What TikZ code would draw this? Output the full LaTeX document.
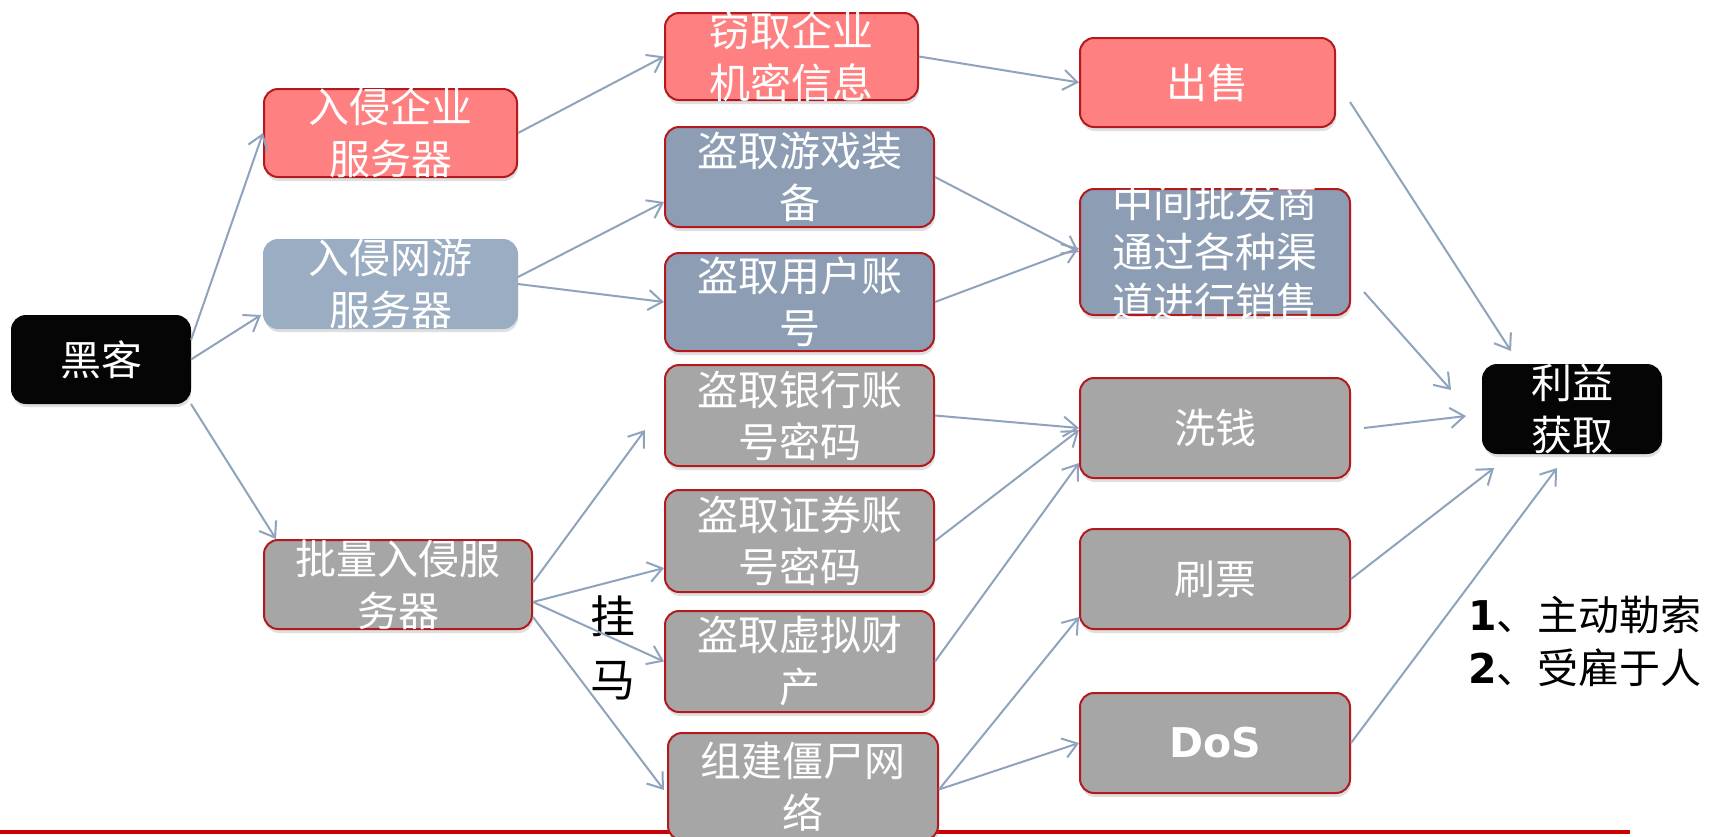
\documentclass[tikz,border=0pt]{standalone}
\usepackage{fontspec}
\setmainfont{Noto Sans CJK SC}
\newfontfamily\dvs{DejaVu Sans}
\usetikzlibrary{arrows.meta,calc,shadows}
\definecolor{redfill}{RGB}{255,128,128}
\definecolor{redline}{RGB}{180,25,30}
\definecolor{bluefill}{RGB}{140,157,180}
\definecolor{lightblue}{RGB}{155,173,194}
\definecolor{greyfill}{RGB}{166,166,166}
\definecolor{blackfill}{RGB}{5,5,5}
\definecolor{arrowc}{RGB}{143,163,188}
\definecolor{topred}{RGB}{204,0,0}
\begin{document}
\begin{tikzpicture}[x=1pt,y=-1pt,
 base/.style={rounded corners=14pt, inner sep=0pt, line width=2pt,
   drop shadow={shadow xshift=1pt,shadow yshift=-4pt,opacity=0.25}},
 redbox/.style={base, fill=redfill, draw=redline},
 bluebox/.style={base, fill=bluefill, draw=redline},
 lightbox/.style={base, fill=lightblue, draw=lightblue},
 greybox/.style={base, fill=greyfill, draw=redline},
 blackbox/.style={base, fill=blackfill, draw=blackfill},
 wtxt/.style={text=white, align=center, inner sep=0pt, font=\fontsize{41}{52}\selectfont},
 conn/.style={draw=arrowc, line width=2pt, -{Straight Barb[length=14pt,width=20pt]}},
]
\clip (0,0) rectangle (1710,836);
\fill[white] (0,0) rectangle (1710,836);
\draw[topred, line width=4pt] (0,832) -- (1630,832);

% column 1
\node[blackbox, minimum width=178pt, minimum height=87pt, label={[wtxt]center:黑客}] (hk) at (101,359.5) {};
% column 2
\node[redbox, minimum width=253pt, minimum height=88pt, label={[wtxt]center:入侵企业\\服务器}] (qy) at (390.5,133) {};
\node[lightbox, minimum width=253pt, minimum height=88pt, label={[wtxt]center:入侵网游\\服务器}] (wy) at (390.5,284) {};
\node[greybox, minimum width=268pt, minimum height=89pt, label={[wtxt]center:批量入侵服\\务器}] (pl) at (398,584.5) {};
% column 3
\node[redbox, minimum width=253pt, minimum height=87pt, label={[wtxt]center:窃取企业\\机密信息}] (qq) at (791.5,56.5) {};
\node[bluebox, minimum width=269pt, minimum height=100pt, label={[wtxt]center:盗取游戏装\\备}] (yx) at (799.5,177) {};
\node[bluebox, minimum width=269pt, minimum height=98pt, label={[wtxt]center:盗取用户账\\号}] (yh) at (799.5,302) {};
\node[greybox, minimum width=269pt, minimum height=101pt, label={[wtxt]center:盗取银行账\\号密码}] (yhang) at (799.5,415.5) {};
\node[greybox, minimum width=269pt, minimum height=102pt, label={[wtxt]center:盗取证券账\\号密码}] (zq) at (799.5,541) {};
\node[greybox, minimum width=269pt, minimum height=101pt, label={[wtxt]center:盗取虚拟财\\产}] (xn) at (799.5,661.5) {};
\node[greybox, minimum width=270pt, minimum height=107pt, label={[wtxt]center:组建僵尸网\\络}] (js) at (803,786.5) {};
% column 4
\node[redbox, minimum width=255pt, minimum height=89pt, label={[wtxt]center:出售}] (cs) at (1207.5,82.5) {};
\node[bluebox, minimum width=270pt, minimum height=126pt, label={[wtxt, font=\fontsize{41}{50}\selectfont]center:中间批发商\\通过各种渠\\道进行销售}] (zj) at (1215,252) {};
\node[greybox, minimum width=270pt, minimum height=100pt, label={[wtxt]center:洗钱}] (xq) at (1215,428) {};
\node[greybox, minimum width=270pt, minimum height=100pt, label={[wtxt]center:刷票}] (sp) at (1215,579) {};
\node[greybox, minimum width=270pt, minimum height=100pt, label={[wtxt, font=\dvs\bfseries\fontsize{41}{52}\selectfont]center:DoS}] (dos) at (1215,743) {};
% column 5
\node[blackbox, minimum width=178pt, minimum height=88pt, label={[wtxt]center:利益\\获取}] (ly) at (1572,409) {};

% free labels
\node[align=center, inner sep=0pt, font=\fontsize{45}{63}\selectfont] (gm) at (613,648) {挂\\马};
\node[anchor=west, align=left, inner sep=0pt, font=\fontsize{41}{53}\selectfont] (note) at (1468,641.5)
  {{\dvs\bfseries 1}、主动勒索\\{\dvs\bfseries 2}、受雇于人};

% connectors
\draw[conn] ($(hk.east)+(0,-19.5)$) -- (qy.west);
\draw[conn] (hk.east) -- ($(wy.west)+(-2,31)$);
\draw[conn] (hk.south east) -- ($(pl.north west)+(13,0)$);
\draw[conn] (qy.east) -- (qq.west);
\draw[conn] ($(wy.east)+(0,-7)$) -- ($(yx.west)+(0,25)$);
\draw[conn] (wy.east) -- (yh.west);
\draw[conn] (qq.east) -- (cs.west);
\draw[conn] (yx.east) -- (zj.west);
\draw[conn] (yh.east) -- ($(zj.west)+(0,-4)$);
\draw[conn] (yhang.east) -- (xq.west);
\draw[conn] (zq.east) -- ($(xq.west)+(0,2)$);
\draw[conn] (xn.east) -- ($(xq.west)+(0,35)$);
\draw[conn] ($(js.east)+(0,3)$) -- ($(sp.west)+(0,38)$);
\draw[conn] ($(js.east)+(0,3)$) -- (dos.west);
\draw[conn] ($(pl.east)+(0,-2)$) -- ($(yhang.west)+(-19,14.5)$);
\draw[conn] ($(pl.east)+(0,17.5)$) -- ($(zq.west)+(0,27)$);
\draw[conn] ($(pl.east)+(0,17.5)$) -- (xn.west);
\draw[conn] ($(pl.east)+(0,32.5)$) -- ($(js.west)+(-3,3.5)$);
\draw[conn] ($(cs.east)+(14,19.5)$) -- ($(ly.north west)+(29,-13)$);
\draw[conn] ($(zj.east)+(13,40)$) -- ($(ly.west)+(-31,-19)$);
\draw[conn] ($(xq.east)+(13,0)$) -- ($(ly.west)+(-16,7)$);
\draw[conn] (sp.east) -- ($(ly.south west)+(12,14)$);
\draw[conn] (dos.east) -- ($(ly.south)+(-15,14)$);
\end{tikzpicture}
\end{document}
